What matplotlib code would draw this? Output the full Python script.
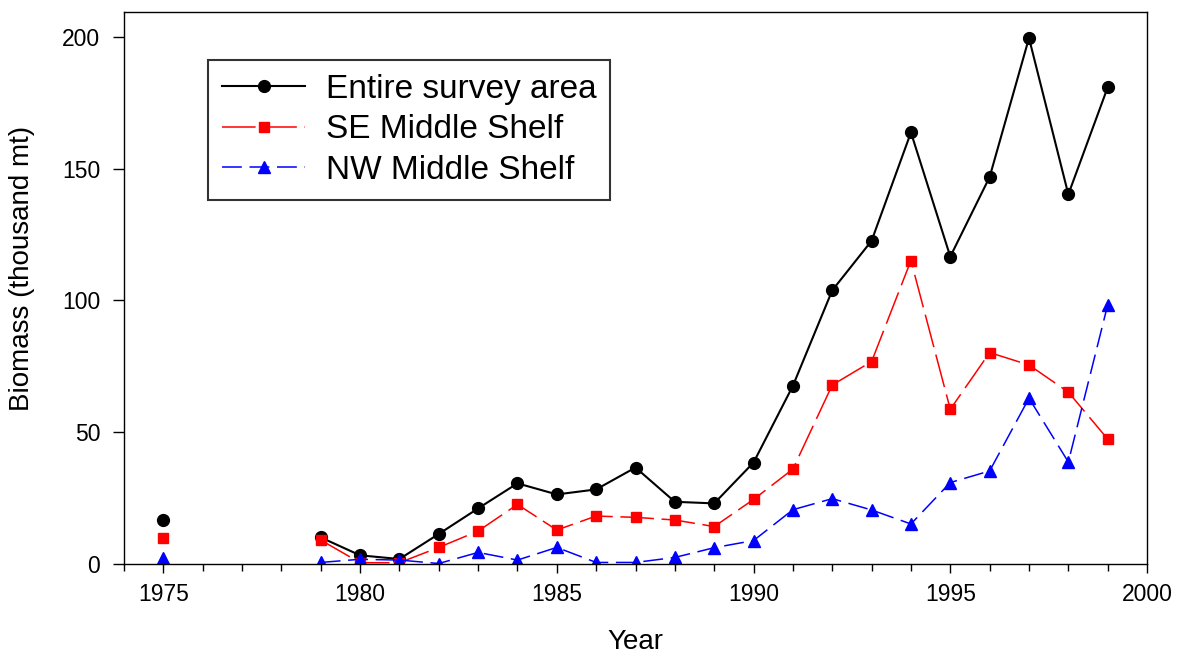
"""
Walleye pollock biomass by survey region, 1975-1999
"""

import matplotlib
matplotlib.use("Agg")
import matplotlib.pyplot as plt
import numpy as np
from matplotlib.ticker import MultipleLocator

plt.rcParams["font.family"] = ["Liberation Sans", "DejaVu Sans"]

years = np.arange(1975, 2000)
nan = np.nan

# thousand mt; no survey 1976-1978
entire_area = [16.7, nan, nan, nan, 10.1, 3.3, 1.9, 11.4, 21.1, 30.6,
               26.4, 28.3, 36.6, 23.6, 23.0, 38.5, 67.6, 103.8, 122.6, 163.7,
               116.6, 146.8, 199.5, 140.2, 180.8]
se_middle_shelf = [9.9, nan, nan, nan, 9.1, 0.5, 0.5, 6.3, 12.5, 22.6,
                   12.9, 18.2, 17.7, 16.7, 14.2, 24.5, 36.0, 67.9, 76.8, 115.1,
                   58.7, 80.2, 75.5, 65.2, 47.4]
nw_middle_shelf = [2.3, nan, nan, nan, 0.6, 1.8, 1.5, 0.2, 4.4, 1.5,
                   6.3, 0.6, 0.6, 2.5, 6.2, 8.9, 20.6, 24.8, 20.5, 15.2,
                   30.9, 35.3, 62.9, 38.7, 98.3]

labels = ["Entire survey area", "SE Middle Shelf", "NW Middle Shelf"]


def main():
    fig = plt.figure(figsize=(11.83, 6.56), dpi=100)
    ax = fig.add_axes([0.1048, 0.1402, 0.8648, 0.842])

    ax.plot(years, entire_area, color="black", linewidth=1.5, marker="o",
            markersize=8.5, label=labels[0])
    ax.plot(years, se_middle_shelf, color="red", linewidth=1.1, marker="s",
            markersize=7.5, dashes=(22, 5), label=labels[1])
    ax.plot(years, nw_middle_shelf, color="blue", linewidth=1.1, marker="^",
            markersize=8.5, dashes=(13, 5), label=labels[2])

    ax.set_xlim(1974, 2000)
    ax.set_ylim(0, 209.5)
    ax.xaxis.set_major_locator(MultipleLocator(5))
    ax.xaxis.set_minor_locator(MultipleLocator(1))
    ax.yaxis.set_major_locator(MultipleLocator(50))

    ax.tick_params(axis="both", which="major", direction="out", width=1,
                   labelsize=16.5)
    ax.tick_params(axis="x", which="major", length=6.5, pad=7)
    ax.tick_params(axis="y", which="major", length=8, pad=9)
    ax.tick_params(axis="x", which="minor", direction="out", length=5, width=1)
    for spine in ax.spines.values():
        spine.set_linewidth(1)

    ax.set_xlabel("Year", fontsize=20, labelpad=17)
    ax.set_ylabel("Biomass (thousand mt)", fontsize=20)
    ax.yaxis.set_label_coords(-0.087, 0.536)

    leg = ax.legend(loc="upper left", bbox_to_anchor=(0.082, 0.9125),
                    borderaxespad=0, fontsize=24, frameon=True, fancybox=False,
                    edgecolor="black", handlelength=2.5, handletextpad=0.62,
                    labelspacing=0.28, borderpad=0.42)
    leg.get_frame().set_linewidth(1.5)

    fig.savefig("out.png", dpi=100)
    plt.close(fig)


if __name__ == "__main__":
    main()
